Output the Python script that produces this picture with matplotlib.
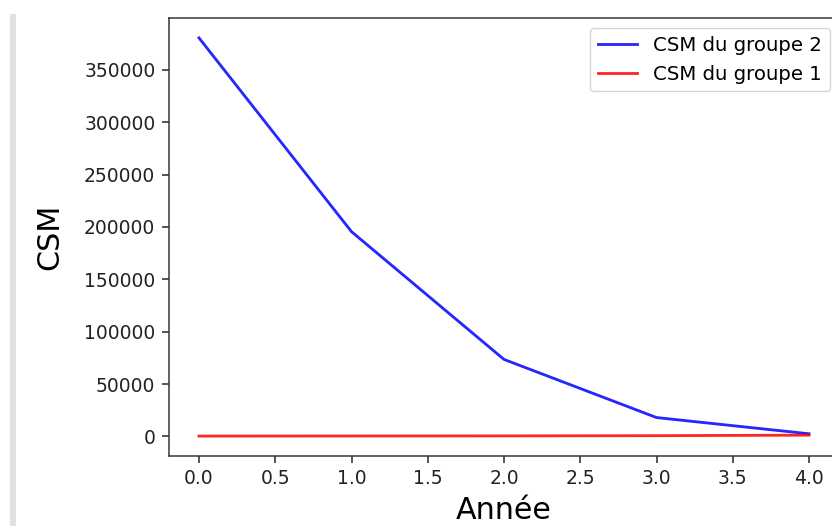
import matplotlib
matplotlib.use("Agg")
import matplotlib.pyplot as plt
from matplotlib.patches import Rectangle

# Data
annees = [0, 1, 2, 3, 4]
csm_groupe_2 = [380500, 195500, 73500, 18000, 2500]
csm_groupe_1 = [300, 400, 500, 700, 1200]
yticks = [0, 50000, 100000, 150000, 200000, 250000, 300000, 350000]

W, H, DPI = 832, 526, 100
s = 1.354  # scale for sizes

plt.rcParams.update({
    "font.family": "DejaVu Sans",
    "font.size": 10 * s,
    "axes.linewidth": 0.8 * s,
    "xtick.major.size": 3.5 * s,
    "ytick.major.size": 3.5 * s,
    "xtick.major.width": 0.8 * s,
    "ytick.major.width": 0.8 * s,
    "xtick.major.pad": 3.5 * s,
    "ytick.major.pad": 3.5 * s,
    "lines.linewidth": 1.5 * s,
})

fig = plt.figure(figsize=(W / DPI, H / DPI), dpi=DPI)

# light grey notebook gutter on the left
fig.patches.append(Rectangle((10 / W, 0), 6 / W, 1 - 14 / H,
                             transform=fig.transFigure, facecolor="#e0e0e0",
                             edgecolor="none", zorder=0))

left, right, top, bottom = 168.5, 839.5, 18.0, 456.0
ax = fig.add_axes([left / W, 1 - bottom / H, (right - left) / W, (bottom - top) / H])

ax.plot(annees, csm_groupe_2, color="blue", alpha=0.85, label="CSM du groupe 2")
ax.plot(annees, csm_groupe_1, color="red", alpha=0.85, label="CSM du groupe 1")
ax.set_yticks(yticks)

ax.set_xlabel("Année", fontsize=16 * s, labelpad=6)
ax.set_ylabel("CSM", fontsize=16 * s, labelpad=14)

ax.tick_params(labelsize=10 * s, colors="#222222", labelcolor="#222222")
for sp in ax.spines.values():
    sp.set_color("#333333")

ax.legend(loc="upper right", fontsize=14.2)

fig.savefig("out.png", dpi=DPI)
